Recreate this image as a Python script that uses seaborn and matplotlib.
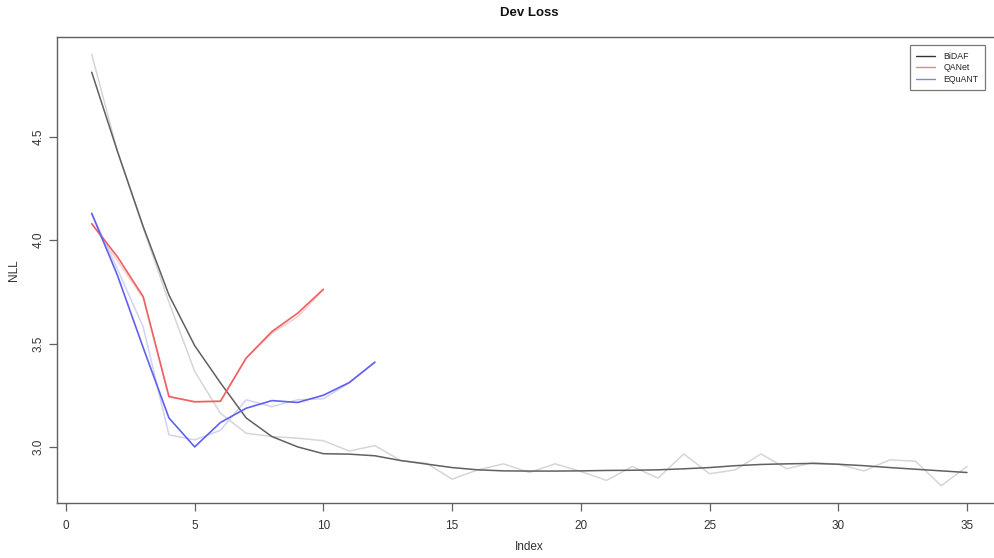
import matplotlib
matplotlib.use("Agg")
import matplotlib.pyplot as plt
from matplotlib.lines import Line2D
import seaborn as sns

# ---- data ----
bidaf_index = list(range(1, 36))
bidaf_raw = [4.90, 4.43, 4.06, 3.70, 3.365, 3.163, 3.066, 3.05, 3.042, 3.03,
             2.98, 3.006, 2.934, 2.921, 2.844, 2.889, 2.918, 2.876, 2.918, 2.881,
             2.838, 2.905, 2.849, 2.966, 2.870, 2.889, 2.966, 2.894, 2.924, 2.916,
             2.884, 2.937, 2.931, 2.812, 2.905]
bidaf_smooth = [4.813, 4.43, 4.066, 3.735, 3.49, 3.31, 3.14, 3.05, 3.00, 2.967,
                2.965, 2.957, 2.934, 2.917, 2.90, 2.889, 2.884, 2.883, 2.883, 2.884,
                2.886, 2.887, 2.889, 2.894, 2.90, 2.909, 2.915, 2.918, 2.92, 2.916,
                2.909, 2.90, 2.892, 2.884, 2.876]

qanet_index = list(range(1, 11))
qanet_raw = [4.08, 3.90, 3.72, 3.24, 3.22, 3.22, 3.43, 3.55, 3.63, 3.76]
qanet_smooth = [4.08, 3.92, 3.727, 3.244, 3.218, 3.221, 3.43, 3.558, 3.647, 3.763]

equant_index = list(range(1, 13))
equant_raw = [4.13, 3.86, 3.58, 3.058, 3.034, 3.08, 3.228, 3.195, 3.228, 3.233, 3.31, 3.41]
equant_smooth = [4.13, 3.83, 3.48, 3.14, 3.00, 3.118, 3.187, 3.224, 3.215, 3.25, 3.311, 3.41]

series_names = ["BiDAF", "QANet", "EQuANT"]
x_ticks = [0, 5, 10, 15, 20, 25, 30, 35]
y_ticks = [3.0, 3.5, 4.0, 4.5]

# ---- style ----
sns.set_style("white")
plt.rcParams['font.family'] = ['Liberation Sans', 'DejaVu Sans']

W, H = 995, 558
fig = plt.figure(figsize=(W / 100, H / 100), dpi=100)
left, right, top, bottom = 56.7, 1002.0, 37.0, 503.0
ax = fig.add_axes([left / W, 1 - bottom / H, (right - left) / W, (bottom - top) / H])

raw_cols = ["#d6d6d6", "#f6cfcf", "#d2d2f4"]
smooth_cols = ["#606060", "#f06060", "#6060f0"]

sns.lineplot(x=bidaf_index, y=bidaf_raw, ax=ax, color=raw_cols[0], lw=1.1, legend=False)
sns.lineplot(x=qanet_index, y=qanet_raw, ax=ax, color=raw_cols[1], lw=1.1, legend=False)
sns.lineplot(x=equant_index, y=equant_raw, ax=ax, color=raw_cols[2], lw=1.1, legend=False)
sns.lineplot(x=bidaf_index, y=bidaf_smooth, ax=ax, color=smooth_cols[0], lw=1.1, legend=False)
sns.lineplot(x=qanet_index, y=qanet_smooth, ax=ax, color=smooth_cols[1], lw=1.2, legend=False)
sns.lineplot(x=equant_index, y=equant_smooth, ax=ax, color=smooth_cols[2], lw=1.2, legend=False)

ax.set_xlim(-0.36, 36.36)
ax.set_ylim(2.7285, 4.9835)
ax.set_xticks(x_ticks)
ax.set_xticklabels([str(t) for t in x_ticks])
ax.set_yticks(y_ticks)
ax.set_yticklabels([f"{t:.1f}" for t in y_ticks], rotation=90, va="center")

for s in ax.spines.values():
    s.set_color("#606060")
    s.set_linewidth(1.0)
ax.spines["right"].set_visible(False)

ax.tick_params(axis="both", which="major", direction="out", length=6, width=0.9,
               color="#606060", labelcolor="#333333", labelsize=8.5,
               bottom=True, left=True)
ax.tick_params(axis="x", pad=6)
ax.tick_params(axis="y", pad=3)
ax.set_xlabel("")
ax.set_ylabel("")

fig.text(529 / W, 1 - 13 / H, "Dev Loss", ha="center", va="center",
         fontsize=9.5, fontweight="bold", color="#111111")
fig.text(529 / W, 1 - 547 / H, "Index", ha="center", va="center",
         fontsize=8.5, color="#333333")
fig.text(14 / W, 1 - 270 / H, "NLL", ha="center", va="center", rotation=90,
         fontsize=8.5, color="#333333")

handles = [Line2D([0], [0], color=c, lw=1.0) for c in ["#333333", "#f28080", "#8080f2"]]
leg = fig.legend(handles, series_names, loc="upper right",
                 bbox_to_anchor=(985 / W, 1 - 45 / H), fontsize=6.3,
                 frameon=True, fancybox=False, handlelength=2.2,
                 borderpad=0.75, labelspacing=0.3, handletextpad=0.9,
                 borderaxespad=0)
leg.get_frame().set_edgecolor("#555555")
leg.get_frame().set_linewidth(0.9)

fig.savefig("out.png", dpi=100)
